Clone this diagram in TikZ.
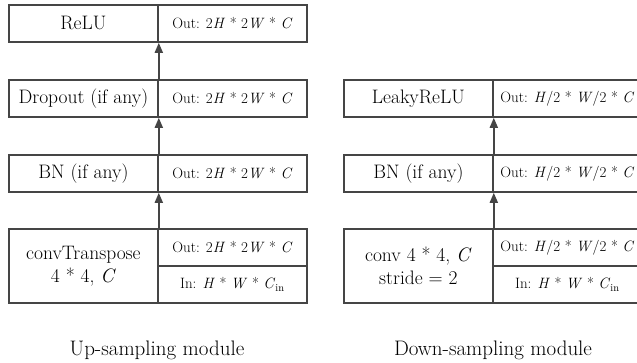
\documentclass[tikz,border=0pt]{standalone}
\usetikzlibrary{positioning,arrows.meta}
\newcommand{\mvar}[1]{\textit{#1}}
\tikzset{
  cell/.style={rectangle, draw=black!73, line width=1.8pt, minimum width=149pt, minimum height=37pt, inner sep=0pt, anchor=north west, font=\fontsize{19.5}{23}\selectfont},
  outcell/.style={cell, font=\fontsize{15}{17}\selectfont},
  flow/.style={draw=black!73, line width=1.8pt, -{Triangle[length=10pt,width=8pt]}},
  caption/.style={font=\fontsize{21}{24}\selectfont}
}
\begin{document}
\begin{tikzpicture}[x=1pt,y=-1pt]
\useasboundingbox (0,0) rectangle (637,362);

% up-sampling module
\node (upRelu) [cell] at (8,4) {ReLU};
\node (upReluOut) [outcell] at (157,4) {Out: 2\mvar{H} * 2\mvar{W} * \mvar{C}};
\node (upDrop) [cell] at (8,79) {Dropout (if any)};
\node (upDropOut) [outcell] at (157,79) {Out: 2\mvar{H} * 2\mvar{W} * \mvar{C}};
\node (upBn) [cell] at (8,154) {BN (if any)};
\node (upBnOut) [outcell] at (157,154) {Out: 2\mvar{H} * 2\mvar{W} * \mvar{C}};
\node (upConv) [cell, minimum height=74pt, align=center] at (8,228) {convTranspose\\4 * 4, \mvar{C}};
\node (upConvOut) [outcell] at (157,228) {Out: 2\mvar{H} * 2\mvar{W} * \mvar{C}};
\node (upConvIn) [outcell] at (157,265) {In: \mvar{H} * \mvar{W} * \mvar{C}\textsubscript{in}};

\draw[flow] (upConv.north east) -- (upBn.south east);
\draw[flow] (upBn.north east) -- (upDrop.south east);
\draw[flow] (upDrop.north east) -- (upRelu.south east);

\node (upCaption) [caption] at (157,350) {Up-sampling module};

% down-sampling module
\node (downLeaky) [cell] at (343,79) {LeakyReLU};
\node (downLeakyOut) [outcell] at (492,79) {Out: \mvar{H}/2 * \mvar{W}/2 * \mvar{C}};
\node (downBn) [cell] at (343,154) {BN (if any)};
\node (downBnOut) [outcell] at (492,154) {Out: \mvar{H}/2 * \mvar{W}/2 * \mvar{C}};
\node (downConv) [cell, minimum height=74pt, align=center] at (343,228) {conv 4 * 4, \mvar{C}\\stride = 2};
\node (downConvOut) [outcell] at (492,228) {Out: \mvar{H}/2 * \mvar{W}/2 * \mvar{C}};
\node (downConvIn) [outcell] at (492,265) {In: \mvar{H} * \mvar{W} * \mvar{C}\textsubscript{in}};

\draw[flow] (downConv.north east) -- (downBn.south east);
\draw[flow] (downBn.north east) -- (downLeaky.south east);

\node (downCaption) [caption] at (493,350) {Down-sampling module};
\end{tikzpicture}
\end{document}
